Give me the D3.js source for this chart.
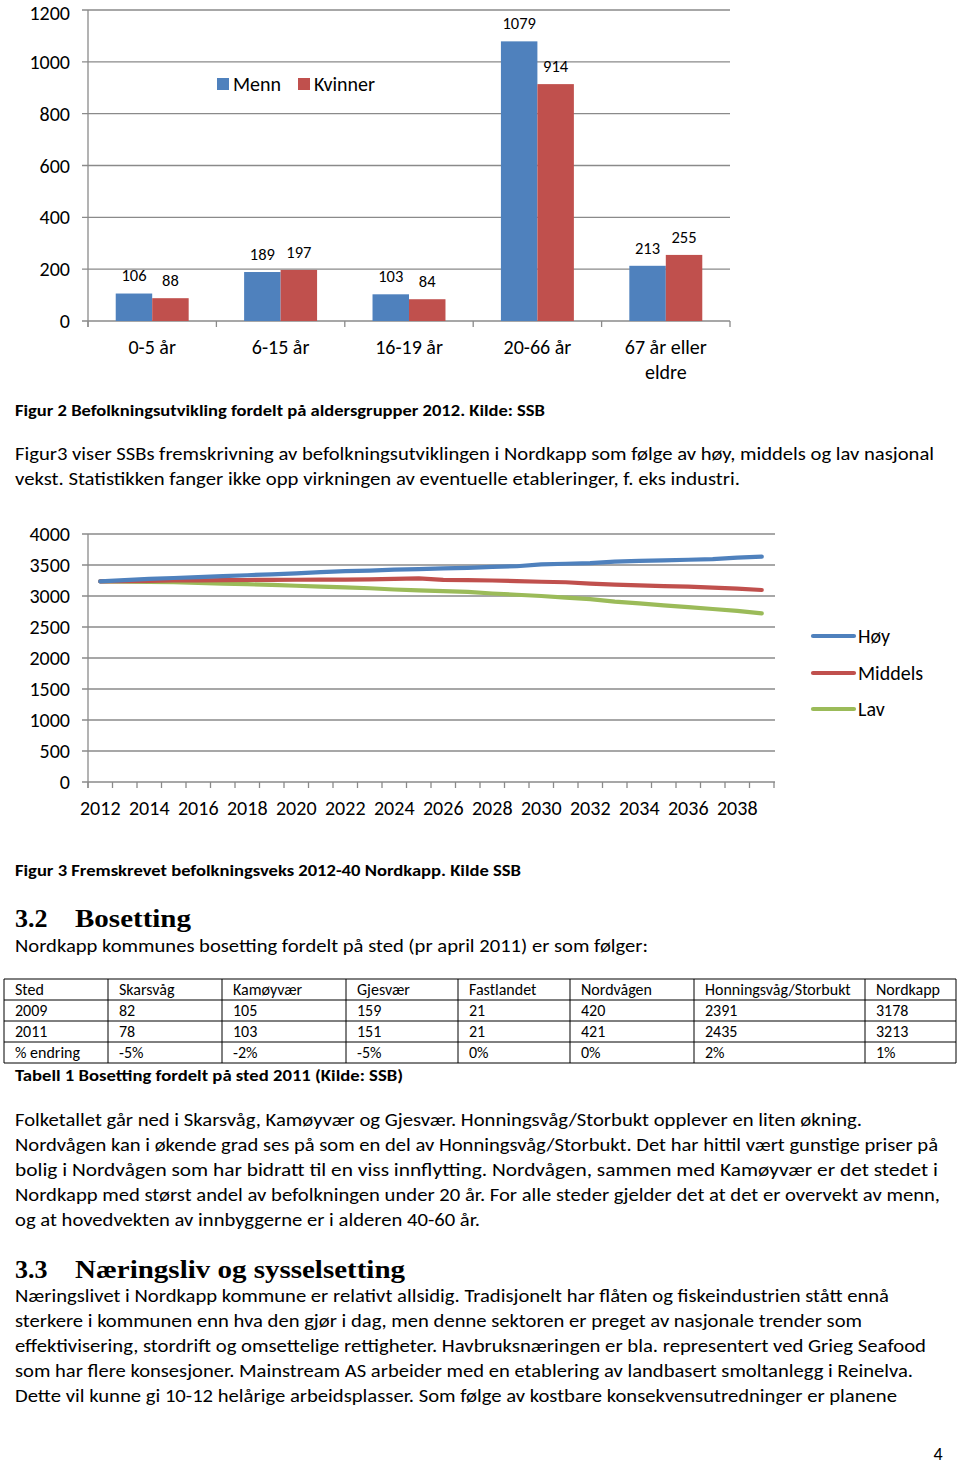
<!DOCTYPE html>
<html><head><meta charset="utf-8">
<script src="https://cdn.jsdelivr.net/npm/d3@7"></script>
<style>
html,body{margin:0;padding:0;background:#fff;}
svg{display:block;}
text{font-family:Carlito,Calibri,Lato,sans-serif;fill:#000;}
</style></head>
<body>
<svg id="page" width="960" height="1464"></svg>
<script>
// ---------- DATA ----------
const ageGroups = ["0-5 år","6-15 år","16-19 år","20-66 år","67 år eller eldre"];
const ageLabelLines = [["0-5 år"],["6-15 år"],["16-19 år"],["20-66 år"],["67 år eller","eldre"]];
const menn    = [106,189,103,1079,213];
const kvinner = [88,197,84,914,255];
const barSeries = ["Menn","Kvinner"];
const barTicks = [0,200,400,600,800,1000,1200];

const years = [2012,2013,2014,2015,2016,2017,2018,2019,2020,2021,2022,2023,2024,2025,
               2026,2027,2028,2029,2030,2031,2032,2033,2034,2035,2036,2037,2038,2039];
const yearLabels = [2012,2014,2016,2018,2020,2022,2024,2026,2028,2030,2032,2034,2036,2038];
const hoy     = [3235,3255,3275,3290,3305,3320,3335,3350,3365,3385,3400,3410,3425,3435,
                 3445,3455,3470,3480,3510,3520,3530,3555,3565,3575,3585,3595,3620,3635];
const middels = [3235,3240,3245,3250,3252,3255,3258,3260,3262,3263,3265,3268,3275,3285,
                 3260,3255,3250,3240,3230,3222,3200,3185,3170,3160,3150,3135,3120,3097];
const lav     = [3235,3232,3228,3222,3212,3200,3190,3178,3165,3152,3140,3125,3105,3090,
                 3080,3068,3040,3020,3000,2975,2950,2910,2880,2850,2820,2790,2760,2721];
const lineSeries = ["Høy","Middels","Lav"];
const lineTicks = [0,500,1000,1500,2000,2500,3000,3500,4000];

const tableHeader = ["Sted","Skarsvåg","Kamøyvær","Gjesvær","Fastlandet","Nordvågen","Honningsvåg/Storbukt","Nordkapp"];
const row2009 = ["2009","82","105","159","21","420","2391","3178"];
const row2011 = ["2011","78","103","151","21","421","2435","3213"];
const rowPct  = ["% endring","-5%","-2%","-5%","0%","0%","2%","1%"];

const COL = {blue:"#4F81BD", red:"#C0504D", green:"#9BBB59", grid:"#8a8a8a"};

const svg = d3.select("#page");

// ---------- BAR CHART ----------
(function(){
  const L=88, R=730, T=10, B=321;
  const x0 = d3.scaleBand().domain(ageGroups).range([L,R]).paddingInner(0).paddingOuter(0);
  const x1 = d3.scaleBand().domain(barSeries).range([0,x0.bandwidth()]).paddingInner(0).paddingOuter(0.76);
  const y = d3.scaleLinear().domain([0,1200]).range([B,T]);
  const g = svg.append("g");
  g.selectAll("line.grid").data(barTicks).join("line")
    .attr("x1",L-6).attr("x2",R).attr("y1",d=>y(d)).attr("y2",d=>y(d))
    .attr("stroke",COL.grid).attr("stroke-width",1.3);
  g.append("line").attr("x1",L).attr("x2",L).attr("y1",T).attr("y2",B+6)
    .attr("stroke",COL.grid).attr("stroke-width",1.3);
  const bounds = ageGroups.map(d=>x0(d)).concat([R]);
  g.selectAll("line.xt").data(bounds).join("line")
    .attr("x1",d=>d).attr("x2",d=>d).attr("y1",B).attr("y2",B+6)
    .attr("stroke",COL.grid).attr("stroke-width",1.3);
  g.selectAll("text.yl").data(barTicks).join("text")
    .attr("x",70).attr("y",d=>Math.max(y(d),13)).attr("dy","0.35em").attr("text-anchor","end")
    .attr("font-size",20).text(d=>d);
  const data = ageGroups.map((a,i)=>({a, vals:[{s:"Menn",v:menn[i]},{s:"Kvinner",v:kvinner[i]}]}));
  const grp = g.selectAll("g.cat").data(data).join("g").attr("transform",d=>`translate(${x0(d.a)},0)`);
  grp.selectAll("rect").data(d=>d.vals).join("rect")
    .attr("x",d=>x1(d.s)).attr("width",x1.bandwidth())
    .attr("y",d=>y(d.v)).attr("height",d=>B-y(d.v))
    .attr("fill",d=>d.s==="Menn"?COL.blue:COL.red);
  grp.selectAll("text").data(d=>d.vals).join("text")
    .attr("x",d=>x1(d.s)+x1.bandwidth()/2).attr("y",d=>y(d.v)-18).attr("dy","0.35em")
    .attr("text-anchor","middle").attr("font-size",16.5).text(d=>d.v);
  ageGroups.forEach((a,i)=>{
    ageLabelLines[i].forEach((ln,j)=>{
      g.append("text").attr("x",x0(a)+x0.bandwidth()/2).attr("y",347+j*25).attr("dy","0.35em")
        .attr("text-anchor","middle").attr("font-size",20).text(ln);
    });
  });
  const leg = [{s:"Menn",c:COL.blue,x:217},{s:"Kvinner",c:COL.red,x:298}];
  leg.forEach(d=>{
    g.append("rect").attr("x",d.x).attr("y",78).attr("width",12).attr("height",12).attr("fill",d.c);
    g.append("text").attr("x",d.x+16).attr("y",84).attr("dy","0.35em").attr("font-size",20).text(d.s);
  });
})();

// ---------- LINE CHART ----------
(function(){
  const L=88, R=774, T=534, B=782;
  const x = d3.scaleBand().domain(years).range([L,R]);
  const y = d3.scaleLinear().domain([0,4000]).range([B,T]);
  const g = svg.append("g");
  g.selectAll("line.grid").data(lineTicks).join("line")
    .attr("x1",L-6).attr("x2",R+1).attr("y1",d=>y(d)).attr("y2",d=>y(d))
    .attr("stroke",COL.grid).attr("stroke-width",1.3);
  g.append("line").attr("x1",L).attr("x2",L).attr("y1",T).attr("y2",B+6)
    .attr("stroke",COL.grid).attr("stroke-width",1.3);
  const bounds = years.map(d=>x(d)).concat([R]);
  g.selectAll("line.xt").data(bounds).join("line")
    .attr("x1",d=>d).attr("x2",d=>d).attr("y1",B).attr("y2",B+6)
    .attr("stroke",COL.grid).attr("stroke-width",1.3);
  g.selectAll("text.yl").data(lineTicks).join("text")
    .attr("x",70).attr("y",d=>y(d)).attr("dy","0.35em").attr("text-anchor","end")
    .attr("font-size",20).text(d=>d);
  g.selectAll("text.xl").data(yearLabels).join("text")
    .attr("x",d=>x(d)+x.bandwidth()/2).attr("y",808).attr("dy","0.35em")
    .attr("text-anchor","middle").attr("font-size",20).text(d=>d);
  const series = [{n:"Høy",v:hoy,c:COL.blue},{n:"Middels",v:middels,c:COL.red},{n:"Lav",v:lav,c:COL.green}];
  const line = d3.line().x((d,i)=>x(years[i])+x.bandwidth()/2).y(d=>y(d));
  series.slice().reverse().forEach(s=>{
    g.append("path").attr("d",line(s.v)).attr("fill","none").attr("stroke",s.c)
      .attr("stroke-width",4.2).attr("stroke-linecap","round").attr("stroke-linejoin","round");
  });
  const legY=[636,673,709];
  series.forEach((s,i)=>{
    g.append("line").attr("x1",813).attr("x2",854).attr("y1",legY[i]).attr("y2",legY[i])
      .attr("stroke",s.c).attr("stroke-width",4.2).attr("stroke-linecap","round");
    g.append("text").attr("x",858).attr("y",legY[i]).attr("dy","0.35em").attr("font-size",20).text(s.n);
  });
})();

// ---------- TEXT ----------
function txt(str, x, y, size, opts={}){
  const t = svg.append("text").attr("x",x).attr("y",y).attr("dy","0.35em").attr("font-size",size).text(str);
  if(opts.bold) t.attr("font-weight","bold");
  if(opts.family) t.style("font-family",opts.family);
  if(opts.w){ t.attr("textLength",opts.w).attr("lengthAdjust","spacingAndGlyphs"); }
  if(opts.anchor) t.attr("text-anchor",opts.anchor);
  return t;
}
txt("Figur 2 Befolkningsutvikling fordelt på aldersgrupper 2012. Kilde: SSB",15,410,16,{bold:true,w:530});
txt("Figur3 viser SSBs fremskrivning av befolkningsutviklingen i Nordkapp som følge av høy, middels og lav nasjonal",15,454,18,{w:919});
txt("vekst. Statistikken fanger ikke opp virkningen av eventuelle etableringer, f. eks industri.",15,479,18,{w:725});
txt("Figur 3 Fremskrevet befolkningsveks 2012-40 Nordkapp. Kilde SSB",15,870,16,{bold:true,w:506});
const serif = "'Liberation Serif','Times New Roman',serif";
txt("3.2",15,918,26,{bold:true,family:serif});
txt("Bosetting",75,918,26,{bold:true,family:serif,w:116});
txt("Nordkapp kommunes bosetting fordelt på sted (pr april 2011) er som følger:",15,946,18,{w:633});

(function(){
  const colX=[4,108,222,346,458,570,694,865,956];
  const rowY=[979,1000,1021,1042,1063];
  const rows=[tableHeader,row2009,row2011,rowPct];
  const g=svg.append("g");
  rowY.forEach(yy=>g.append("line").attr("x1",colX[0]).attr("x2",colX[8]).attr("y1",yy).attr("y2",yy).attr("stroke","#000").attr("stroke-width",1));
  colX.forEach(xx=>g.append("line").attr("x1",xx).attr("x2",xx).attr("y1",rowY[0]).attr("y2",rowY[4]).attr("stroke","#000").attr("stroke-width",1));
  rows.forEach((r,ri)=>{
    r.forEach((c,ci)=>{
      g.append("text").attr("x",colX[ci]+11).attr("y",(rowY[ri]+rowY[ri+1])/2).attr("dy","0.35em")
        .attr("font-size",16).text(c);
    });
  });
})();
txt("Tabell 1 Bosetting fordelt på sted 2011 (Kilde: SSB)",15,1075,16,{bold:true,w:388});

const para1 = [
 ["Folketallet går ned i Skarsvåg, Kamøyvær og Gjesvær. Honningsvåg/Storbukt opplever en liten økning.",847],
 ["Nordvågen kan i økende grad ses på som en del av Honningsvåg/Storbukt. Det har hittil vært gunstige priser på",923],
 ["bolig i Nordvågen som har bidratt til en viss innflytting. Nordvågen, sammen med Kamøyvær  er det stedet i",923],
 ["Nordkapp med størst andel av befolkningen under 20 år. For alle steder gjelder det at det er overvekt av menn,",925],
 ["og at hovedvekten av innbyggerne er i alderen 40-60 år.",465]
];
para1.forEach((p,i)=>txt(p[0],15,1120+i*25,18,{w:p[1]}));
txt("3.3",15,1269,26,{bold:true,family:serif});
txt("Næringsliv og sysselsetting",75,1269,26,{bold:true,family:serif,w:330});
const para2 = [
 ["Næringslivet i Nordkapp kommune er relativt allsidig. Tradisjonelt har flåten og fiskeindustrien stått ennå",874],
 ["sterkere i kommunen enn hva den gjør i dag, men denne sektoren er preget av nasjonale trender som",847],
 ["effektivisering, stordrift og omsettelige rettigheter. Havbruksnæringen er bla. representert ved Grieg Seafood",911],
 ["som har flere konsesjoner. Mainstream AS arbeider med en etablering av landbasert smoltanlegg i Reinelva.",898],
 ["Dette vil kunne gi 10-12 helårige arbeidsplasser. Som følge av kostbare konsekvensutredninger er planene",882]
];
para2.forEach((p,i)=>txt(p[0],15,1296+i*25,18,{w:p[1]}));
txt("4",938,1454,18,{anchor:"middle"});
</script>
</body></html>
